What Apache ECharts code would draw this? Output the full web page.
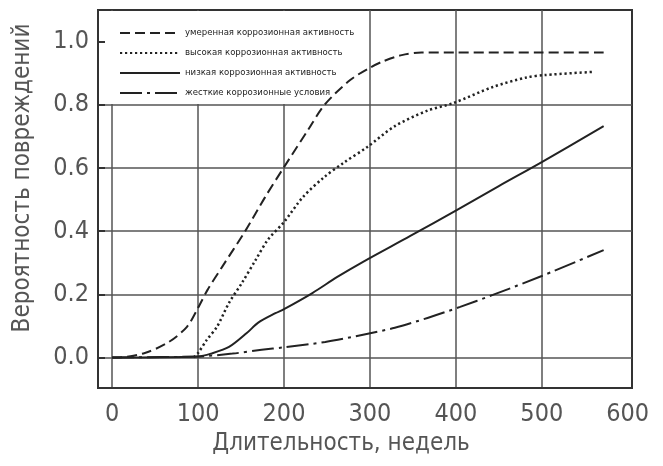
<!DOCTYPE html>
<html>
<head>
<meta charset="utf-8">
<script src="https://cdn.jsdelivr.net/npm/echarts@6/dist/echarts.min.js"></script>
<style>
html,body{margin:0;padding:0;background:#fff;}
#chart{width:663px;height:466px;}
</style>
</head>
<body>
<div id="chart"></div>
<script>
// ---- data ----
const seriesNames = [
  'умеренная коррозионная активность',
  'высокая коррозионная активность',
  'низкая коррозионная активность',
  'жесткие коррозионные условия'
];
const moderateX = [0, 5, 38, 66, 87, 100, 111, 128, 155, 178, 200, 228, 247, 277, 300, 315, 337, 360, 400, 450, 500, 572];
const moderateY = [0, 0, 0.014, 0.049, 0.097, 0.157, 0.214, 0.287, 0.401, 0.508, 0.603, 0.721, 0.8, 0.879, 0.918, 0.938, 0.958, 0.966, 0.966, 0.966, 0.966, 0.966];
const highX = [95, 100, 110, 122, 136, 151, 167, 181, 200, 222, 247, 269, 297, 329, 367, 397, 443, 482, 504, 561];
const highY = [0, 0.014, 0.055, 0.097, 0.173, 0.236, 0.309, 0.372, 0.429, 0.508, 0.572, 0.616, 0.667, 0.733, 0.782, 0.806, 0.857, 0.887, 0.895, 0.905];
const lowX = [0, 100, 115, 136, 157, 170, 190, 200, 233, 262, 292, 347, 401, 450, 500, 572];
const lowY = [0, 0.003, 0.012, 0.033, 0.078, 0.11, 0.14, 0.153, 0.204, 0.255, 0.303, 0.385, 0.467, 0.543, 0.619, 0.733];
const harshX = [0, 100, 140, 174, 200, 248, 292, 329, 367, 405, 443, 500, 572];
const harshY = [0, 0.003, 0.012, 0.024, 0.032, 0.049, 0.072, 0.094, 0.125, 0.16, 0.198, 0.258, 0.34];
const xTicks = [0, 100, 200, 300, 400, 500, 600];
const yTicks = [0, 0.2, 0.4, 0.6, 0.8, 1.0];

function pairs(xs, ys) { return xs.map((x, i) => [x, ys[i]]); }

const FONT = '"Liberation Sans Narrow", "DejaVu Sans Condensed", "Liberation Sans", sans-serif';
const INK = '#222';
const GRID = '#555';
const NONE = 'rgba(0,0,0,0)';

function isTick(v, list) { return list.some(t => Math.abs(t - v) < 1e-6); }

const chart = echarts.init(document.getElementById('chart'), null, {renderer: 'canvas'});
const lineBase = {type: 'line', symbol: 'none', smooth: 0.3, z: 3};

chart.setOption({
  animation: false,
  backgroundColor: '#fff',
  grid: {left: 98, right: 31, top: 10, bottom: 78, show: true, borderColor: '#333', borderWidth: 2, backgroundColor: 'transparent'},
  xAxis: {
    type: 'value', min: -16.5, max: 605, minInterval: 100, maxInterval: 100,
    axisLine: {show: true, onZero: false, lineStyle: {color: '#333', width: 2}},
    axisTick: {show: false},
    splitLine: {show: true, lineStyle: {color: [NONE, GRID, GRID, GRID, GRID, GRID, GRID, NONE, NONE], width: 1.5}},
    axisLabel: {
      showMinLabel: false, showMaxLabel: false, margin: 14,
      color: '#555', fontFamily: FONT, fontSize: 25,
      formatter: v => isTick(v, xTicks) ? String(Math.round(v)) : ''
    },
    name: 'Длительность, недель', nameLocation: 'middle', nameGap: 40,
    nameTextStyle: {color: '#555', fontFamily: FONT, fontSize: 24, padding: [0, 48, 0, 0]}
  },
  yAxis: {
    type: 'value', min: -0.097, max: 1.101, minInterval: 0.2, maxInterval: 0.2,
    axisLine: {show: true, onZero: false, lineStyle: {color: '#333', width: 2}},
    axisTick: {show: true, inside: true, length: 7, lineStyle: {color: '#333', width: 2}},
    splitLine: {show: true, lineStyle: {color: [NONE, GRID, GRID, GRID, GRID, GRID, NONE, NONE], width: 1.5}},
    axisLabel: {
      showMinLabel: false, showMaxLabel: false, margin: 9,
      color: '#555', fontFamily: FONT, fontSize: 25,
      formatter: v => isTick(v, yTicks) ? v.toFixed(1) : ''
    },
    name: 'Вероятность повреждений', nameLocation: 'middle', nameGap: 63,
    nameTextStyle: {color: '#555', fontFamily: FONT, fontSize: 24, padding: [0, 0, 0, 42]}
  },
  legend: {
    orient: 'vertical', left: 114, top: 23, itemWidth: 60, itemHeight: 10, itemGap: 10, itemTextGap: 4,
    itemStyle: {opacity: 0},
    textStyle: {color: INK, fontFamily: FONT, fontSize: 9.5},
    data: seriesNames
  },
  graphic: [{
    type: 'rect', z: 1, silent: true,
    shape: {x: 106, y: 11, width: 258, height: 93},
    style: {fill: '#fff'}
  }],
  series: [
    Object.assign({}, lineBase, {name: seriesNames[0], data: pairs(moderateX, moderateY),
      lineStyle: {color: INK, width: 2, type: [10, 5]}, itemStyle: {color: INK}}),
    Object.assign({}, lineBase, {name: seriesNames[1], data: pairs(highX, highY),
      lineStyle: {color: INK, width: 2.5, type: [2.2, 2.8]}, itemStyle: {color: INK}}),
    Object.assign({}, lineBase, {name: seriesNames[2], data: pairs(lowX, lowY),
      lineStyle: {color: INK, width: 2}, itemStyle: {color: INK}}),
    Object.assign({}, lineBase, {name: seriesNames[3], data: pairs(harshX, harshY),
      lineStyle: {color: INK, width: 2, type: [22, 5, 3, 5]}, itemStyle: {color: INK}})
  ]
});
</script>
</body>
</html>
